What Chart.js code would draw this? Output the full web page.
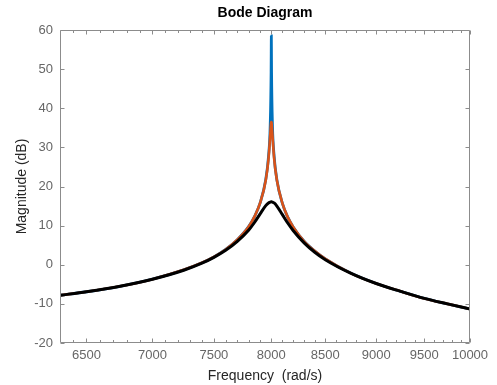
<!DOCTYPE html>
<html>
<head>
<meta charset="utf-8">
<script src="https://cdn.jsdelivr.net/npm/chart.js@4/dist/chart.umd.min.js"></script>
<style>
  body { margin: 0; background: #fff; }
  #wrap { width: 497px; height: 385px; }
</style>
</head>
<body>
<div id="wrap"><canvas id="bode" width="497" height="385"></canvas></div>
<script>
// frequency points (rad/s)
const freqs = [6310, 6500, 6750, 7000, 7250, 7400, 7500, 7600, 7700, 7800, 7850, 7900, 7950, 7975, 7990,
  7998, 7999, 8000, 8001, 8002, 8010, 8025, 8050, 8100, 8150, 8200, 8300, 8400, 8500, 8750,
  9000, 9250, 9500, 9750, 10000];

// magnitude (dB) for each curve
const magBlue = [-7.8, -6.9, -5.5, -3.7, -1.3, 0.5, 2.0, 3.9, 6.4, 9.8, 12.3, 15.8, 21.8, 27.8, 35.7,
  49.2, 53.9, 58.5, 53.9, 49.2, 35.7, 27.8, 21.7, 15.7, 12.1, 9.6, 6.0, 3.5, 1.5, -2.2,
  -4.8, -6.8, -8.6, -10.0, -11.3];
const magOrange = [-7.8, -6.9, -5.5, -3.7, -1.3, 0.5, 2.0, 3.9, 6.4, 9.8, 12.3, 15.8, 21.6, 27.2, 33.1,
  36.3, 36.4, 36.5, 36.4, 36.3, 33.1, 27.2, 21.6, 15.7, 12.1, 9.6, 6.0, 3.5, 1.5, -2.2,
  -4.8, -6.8, -8.6, -10.0, -11.3];
const magBlack = [-7.8, -6.9, -5.5, -3.7, -1.4, 0.4, 1.9, 3.7, 6.0, 8.9, 10.8, 13.0, 15.1, 15.8, 16.0,
  16.1, 16.1, 16.1, 16.1, 16.1, 16.0, 15.8, 15.0, 12.8, 10.6, 8.7, 5.6, 3.2, 1.3, -2.2,
  -4.8, -6.8, -8.6, -10.0, -11.3];

const xTicks = [6500, 7000, 7500, 8000, 8500, 9000, 9500, 10000];
const xMinorTicks = [6400, 6600, 6700, 6800, 6900, 7100, 7200, 7300, 7400, 7600, 7700, 7800, 7900,
  8100, 8200, 8300, 8400, 8600, 8700, 8800, 8900, 9100, 9200, 9300, 9400, 9600, 9700, 9800, 9900];
const yTicks = [-20, -10, 0, 10, 20, 30, 40, 50, 60];
const chartTitle = 'Bode Diagram';

function pts(ys) {
  return freqs.map((f, i) => ({ x: f, y: ys[i] }));
}

// matlab style box with inward ticks, title centred over the axes
const boxPlugin = {
  id: 'box',
  afterDatasetsDraw(chart) {
    const { ctx, chartArea: a, scales } = chart;
    const x = scales.x, y = scales.y;
    const L = Math.round(a.left) + 0.5, R = Math.round(a.right) - 0.5;
    const T = Math.round(a.top) + 0.5, B = Math.round(a.bottom) - 0.5;
    ctx.save();
    ctx.strokeStyle = '#8c8c8c';
    ctx.lineWidth = 1;
    ctx.beginPath();
    ctx.rect(L, T, R - L, B - T);
    xTicks.forEach(v => {
      const px = Math.round(x.getPixelForValue(v)) + 0.5;
      ctx.moveTo(px, B); ctx.lineTo(px, B - 4);
      ctx.moveTo(px, T); ctx.lineTo(px, T + 4);
    });
    xMinorTicks.forEach(v => {
      const px = Math.round(x.getPixelForValue(v)) + 0.5;
      ctx.moveTo(px, B); ctx.lineTo(px, B - 2.5);
      ctx.moveTo(px, T); ctx.lineTo(px, T + 2.5);
    });
    yTicks.forEach(v => {
      const py = Math.round(y.getPixelForValue(v)) + 0.5;
      ctx.moveTo(L, py); ctx.lineTo(L + 4, py);
      ctx.moveTo(R, py); ctx.lineTo(R - 4, py);
    });
    ctx.stroke();

    ctx.fillStyle = '#000';
    ctx.font = 'bold 14px "Liberation Sans"';
    ctx.textAlign = 'center';
    ctx.textBaseline = 'middle';
    ctx.fillText(chartTitle, (a.left + a.right) / 2, 13.5);
    ctx.restore();
  }
};

const ctx = document.getElementById('bode').getContext('2d');
new Chart(ctx, {
  type: 'line',
  data: {
    datasets: [
      { data: pts(magBlack), borderColor: '#000000', borderWidth: 3, order: 0 },
      { data: pts(magOrange), borderColor: '#D95319', borderWidth: 2.6, order: 1 },
      { data: pts(magBlue), borderColor: '#0072BD', borderWidth: 2.8, order: 2 }
    ]
  },
  options: {
    responsive: false,
    animation: false,
    elements: {
      point: { radius: 0 },
      line: { cubicInterpolationMode: 'monotone', fill: false }
    },
    layout: { padding: { left: 0, right: 27, top: 30, bottom: 0 } },
    plugins: {
      legend: { display: false },
      tooltip: { enabled: false },
      title: { display: false }
    },
    scales: {
      x: {
        type: 'logarithmic',
        min: Math.pow(10, 3.8),
        max: 10000,
        afterBuildTicks(scale) {
          scale.ticks = xTicks.map(v => ({ value: v }));
        },
        afterFit(scale) { scale.height = 42; },
        grid: { display: false, drawTicks: false },
        border: { display: false },
        ticks: {
          color: '#666',
          font: { family: 'Liberation Sans', size: 13 },
          padding: 5,
          maxRotation: 0,
          autoSkip: false,
          callback: v => String(v)
        },
        title: {
          display: true,
          text: 'Frequency  (rad/s)',
          color: '#262626',
          font: { family: 'Liberation Sans', size: 14 },
          padding: { top: 5, bottom: 0 }
        }
      },
      y: {
        min: -20,
        max: 60,
        afterBuildTicks(scale) {
          scale.ticks = yTicks.map(v => ({ value: v }));
        },
        afterFit(scale) { scale.width = 60; },
        grid: { display: false, drawTicks: false },
        border: { display: false },
        ticks: {
          color: '#666',
          font: { family: 'Liberation Sans', size: 13 },
          padding: 7
        },
        title: {
          display: true,
          text: 'Magnitude (dB)',
          color: '#262626',
          font: { family: 'Liberation Sans', size: 14 },
          padding: { top: 13.6, bottom: 0 }
        }
      }
    }
  },
  plugins: [boxPlugin]
});
</script>
</body>
</html>
